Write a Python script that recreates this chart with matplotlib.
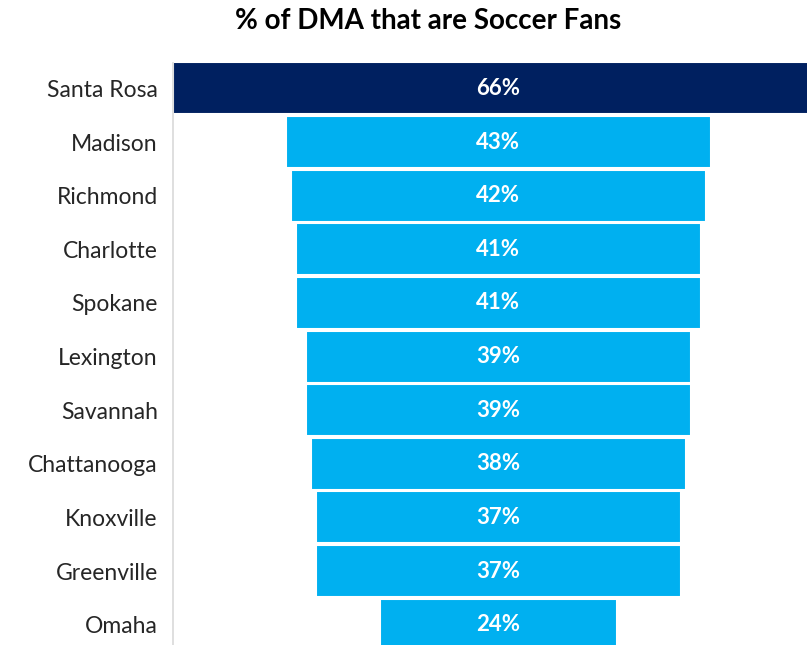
import matplotlib.pyplot as plt

# data
cities = ["Santa Rosa", "Madison", "Richmond", "Charlotte", "Spokane", "Lexington",
          "Savannah", "Chattanooga", "Knoxville", "Greenville", "Omaha"]
pct = [66, 43, 42, 41, 41, 39, 39, 38, 37, 37, 24]

plt.rcParams['font.family'] = ['Lato', 'DejaVu Sans']

fig = plt.figure(figsize=(8.07, 6.45), dpi=100)
W, H = 807, 645
ax = fig.add_axes([173 / W, 0, (W - 173) / W, (645 - 63) / H])

colors = ["#002060"] + ["#00B0F0"] * (len(cities) - 1)
ypos = list(range(len(cities)))
lefts = [-v / 2 for v in pct]
ax.barh(ypos, pct, left=lefts, height=0.97, color=colors,
        edgecolor="white", linewidth=1.5)

for y, v in zip(ypos, pct):
    ax.text(0, y, f"{v}%", ha="center", va="center", color="white",
            fontsize=16, fontweight="bold")

ax.set_xlim(-32.95, 31.25)
ax.set_ylim(10.38, -0.475)
ax.set_yticks(ypos)
ax.set_yticklabels(cities, fontsize=16.5, color="#262626")
ax.tick_params(axis="y", length=0, pad=11)
ax.set_xticks([])
for s in ["top", "right", "bottom"]:
    ax.spines[s].set_visible(False)
ax.spines["left"].set_color("#d9d9d9")
ax.spines["left"].set_linewidth(1.2)

fig.text(428 / W, 1 - 21 / H, "% of DMA that are Soccer Fans", ha="center",
         va="center", fontsize=20, fontweight="bold", color="black")

fig.savefig("out.png", dpi=100)
